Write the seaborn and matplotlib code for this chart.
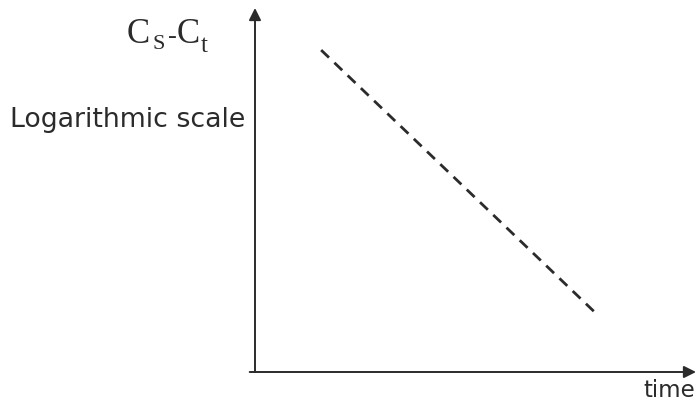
import matplotlib
matplotlib.use("Agg")
import matplotlib.pyplot as plt
import seaborn as sns

# Data
time = [1.5, 7.75]
conc_diff = [450, 3.0]

sns.set_style("white")
plt.rcParams["font.family"] = ["DejaVu Sans"]

ink = "#2b2b2b"

fig = plt.figure(figsize=(6.96, 4.05), dpi=100)
ax = fig.add_axes([255 / 696, 33 / 405, 441 / 696, 364 / 405])

sns.lineplot(x=time, y=conc_diff, ax=ax, color=ink, linewidth=2.0)
ax.lines[0].set_dashes([3.9, 2.7])

ax.set_yscale("log")
ax.set_xlim(0, 10)
ax.set_ylim(1, 1000)

for s in ax.spines.values():
    s.set_visible(False)
ax.set_xticks([])
ax.set_yticks([])
ax.minorticks_off()

# axes with arrowheads
arrow = dict(arrowstyle="-|>", color=ink, lw=1.4, mutation_scale=18, shrinkA=0, shrinkB=0)
ax.annotate("", xy=(1.0, 0), xytext=(-0.012, 0), xycoords="axes fraction",
            arrowprops=arrow, annotation_clip=False)
ax.annotate("", xy=(0, 1.0), xytext=(0, 0), xycoords="axes fraction",
            arrowprops=arrow, annotation_clip=False)

# labels  (C_S - C_t built piecewise so the subscripts sit like the sketch)
serif = dict(family="Liberation Serif", color=ink, va="baseline")
fig.text(127 / 696, 1 - 43 / 405, "C", fontsize=25, **serif)
fig.text(152 / 696, 1 - 49 / 405, "S", fontsize=16, **serif)
fig.text(168 / 696, 1 - 43 / 405, "-", fontsize=19, **serif)
fig.text(177 / 696, 1 - 43 / 405, "C", fontsize=25, **serif)
fig.text(201 / 696, 1 - 52 / 405, "t", fontsize=18, **serif)

fig.text(10 / 696, 1 - 127 / 405, "Logarithmic scale",
         fontsize=19.3, color=ink, va="baseline")
fig.text(643 / 696, 1 - 397 / 405, "time",
         fontsize=16.5, color=ink, va="baseline")

fig.savefig("out.png", dpi=100)
